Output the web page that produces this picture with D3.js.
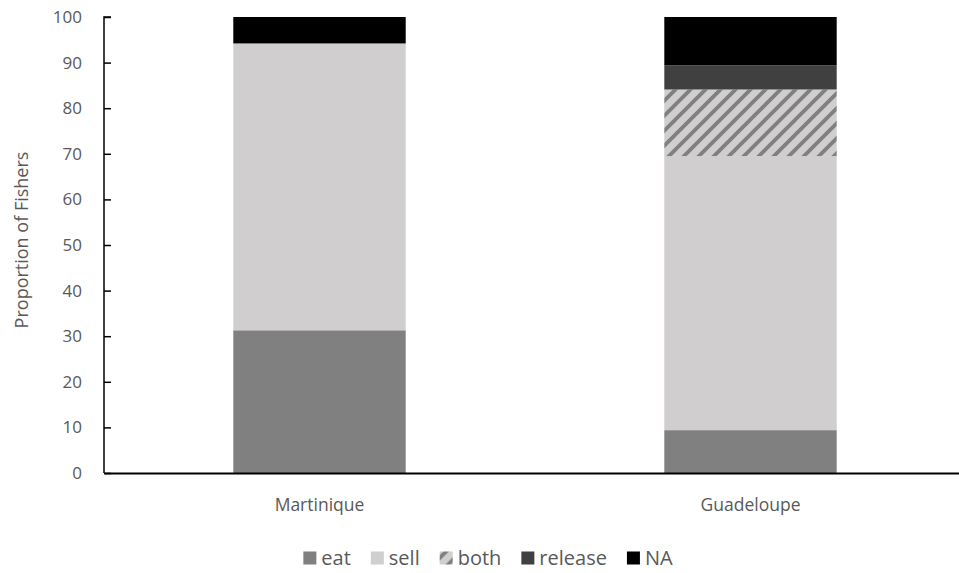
<!DOCTYPE html>
<html>
<head>
<meta charset="utf-8">
<script src="https://cdn.jsdelivr.net/npm/d3@7"></script>
<style>
  html, body { margin: 0; padding: 0; background: #fff; }
  svg { display: block; }
  text { font-family: "Open Sans", sans-serif; fill: #595959; }
</style>
</head>
<body>
<svg id="chart" width="959" height="573"></svg>
<script>
// ---- data ----
const categories = ["Martinique", "Guadeloupe"];
const seriesNames = ["eat", "sell", "both", "release", "NA"];
const eat     = [31.3, 9.4];
const sell    = [62.9, 60.1];
const both    = [0, 14.6];
const release = [0, 5.3];
const na      = [5.8, 10.6];
const yTicks  = [0, 10, 20, 30, 40, 50, 60, 70, 80, 90, 100];
const yTitle  = "Proportion of Fishers";

const seriesValues = { eat, sell, both, release, NA: na };
const rows = categories.map((c, i) => {
  const r = { category: c };
  seriesNames.forEach(s => r[s] = seriesValues[s][i]);
  return r;
});

(function () {
// ---- layout ----
const svg = d3.select("#chart");
const mLeft = 104, mRight = 966, mTop = 17, mBottom = 473;
const colors = { eat: "#808080", sell: "#d0cece", both: "url(#hatch)", release: "#404040", NA: "#000000" };

const defs = svg.append("defs");
const pat = defs.append("pattern")
  .attr("id", "hatch").attr("patternUnits", "userSpaceOnUse")
  .attr("width", 15).attr("height", 15);
pat.append("rect").attr("width", 15).attr("height", 15).attr("fill", "#d0cece");
pat.append("path")
  .attr("d", "M-4,4 L4,-4 M0,15 L15,0 M11,19 L19,11")
  .attr("stroke", "#808080").attr("stroke-width", 3.8);

const x = d3.scaleBand().domain(categories).range([mLeft, mRight]).padding(0);
const y = d3.scaleLinear().domain([0, 100]).range([mBottom, mTop]);
const barW = x.bandwidth() * 0.4;

const stack = d3.stack().keys(seriesNames)(rows);

svg.append("g").selectAll("g").data(stack).join("g")
  .attr("fill", d => colors[d.key])
  .selectAll("rect").data(d => d.filter(p => p[1] - p[0] > 0)).join("rect")
  .attr("x", d => x(d.data.category) + (x.bandwidth() - barW) / 2)
  .attr("width", barW)
  .attr("y", d => y(d[1]))
  .attr("height", d => y(d[0]) - y(d[1]));

// y axis
const yAxis = svg.append("g").attr("transform", `translate(${mLeft},0)`)
  .call(d3.axisRight(y).tickValues(yTicks).tickSize(7).tickFormat(""));
yAxis.select(".domain").attr("stroke", "#000").attr("stroke-width", 1.5).attr("d", `M7,${mTop}H0V${mBottom}`);
yAxis.selectAll(".tick line").attr("stroke", "#000").attr("stroke-width", 1.5);

svg.append("g").selectAll("text").data(yTicks).join("text")
  .attr("x", 82).attr("y", d => y(d)).attr("dy", "0.35em")
  .attr("text-anchor", "end").attr("font-size", 17).text(d => d);

// x axis
const xAxis = svg.append("g").attr("transform", `translate(0,${mBottom})`)
  .call(d3.axisBottom(x).tickSize(0));
xAxis.select(".domain").attr("stroke", "#000").attr("stroke-width", 2);
xAxis.selectAll(".tick text").attr("font-size", 17.5).attr("dy", 0).attr("y", 38)
  .style("font-family", "'Open Sans', sans-serif").attr("fill", "#595959");

// y title
svg.append("text")
  .attr("transform", `translate(28,240) rotate(-90)`)
  .attr("text-anchor", "middle").attr("font-size", 18).text(yTitle);

// legend
const lg = svg.append("g");
let cx = 0;
seriesNames.forEach(s => {
  const g = lg.append("g").attr("transform", `translate(${cx},0)`);
  g.append("rect").attr("x", 0).attr("y", -6.5).attr("width", 13).attr("height", 13).attr("fill", colors[s]);
  const t = g.append("text").attr("x", 18).attr("y", 0).attr("dy", "0.35em").attr("font-size", 20).text(s);
  const w = t.node().getComputedTextLength();
  cx += 18 + w + 20;
});
const totalW = cx - 20;
lg.attr("transform", `translate(${488 - totalW / 2},558)`);
})();
</script>
</body>
</html>
